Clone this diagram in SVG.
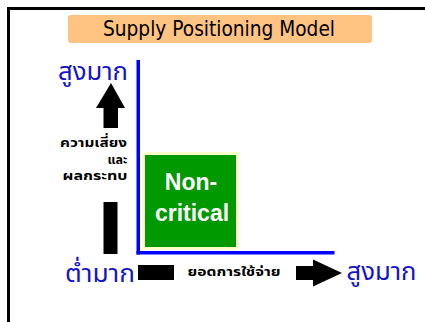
<svg xmlns="http://www.w3.org/2000/svg" width="425" height="322" viewBox="0 0 425 322">
  <style>
    .thai { font-family: "Noto Sans Thai", "Tahoma", "Loma", "Garuda", "Norasi", "DejaVu Sans", sans-serif; }
    .level { fill: #1414C8; font-size: 25px; }
    .axis-label { fill: #000000; font-size: 12.5px; font-weight: bold; }
    .axis { fill: #0000FF; }
    .arrow { fill: #000000; }
  </style>
  <rect width="425" height="322" fill="#FFFFFF"/>
  <!-- slide frame, runs off the right and bottom edges -->
  <rect x="8.5" y="8.5" width="440" height="340" fill="none" stroke="#000000" stroke-width="3"/>

  <g id="title">
    <rect x="68" y="15" width="304" height="28" rx="3" fill="#FFC382"/>
    <text x="219" y="36" text-anchor="middle" font-family="DejaVu Sans, Verdana, sans-serif" font-size="21" textLength="232" lengthAdjust="spacingAndGlyphs" fill="#000000">Supply Positioning Model</text>
  </g>

  <g id="axes">
    <rect class="axis" x="136.5" y="60" width="3.5" height="194.5"/>
    <rect class="axis" x="136.5" y="251" width="198" height="3.5"/>
  </g>

  <g id="non-critical">
    <rect x="143.5" y="153.5" width="94" height="95" fill="#009900" stroke="#FFFFCC" stroke-width="3"/>
    <text x="191" y="190" text-anchor="middle" font-family="Liberation Sans, Arial, sans-serif" font-weight="bold" font-size="23" fill="#FFFFFF">Non-</text>
    <text x="192" y="221" text-anchor="middle" font-family="Liberation Sans, Arial, sans-serif" font-weight="bold" font-size="23" fill="#FFFFFF">critical</text>
  </g>

  <g id="risk-axis">
    <text class="thai level" x="93" y="80" text-anchor="middle" textLength="70" lengthAdjust="spacingAndGlyphs">สูงมาก</text>
    <path class="arrow" d="M111,83 L125,108 L118,108 L118,128 L103.5,128 L103.5,108 L96,108 Z"/>
    <text class="thai axis-label" x="127" y="146.5" text-anchor="end" textLength="67" lengthAdjust="spacingAndGlyphs">ความเสี่ยง</text>
    <text class="thai axis-label" x="127.5" y="163.5" text-anchor="end">และ</text>
    <text class="thai axis-label" x="127.5" y="179.5" text-anchor="end" textLength="65" lengthAdjust="spacingAndGlyphs">ผลกระทบ</text>
    <rect class="arrow" x="103.5" y="202" width="14" height="52"/>
  </g>

  <g id="spend-axis">
    <text class="thai level" x="100" y="281.5" text-anchor="middle" textLength="70" lengthAdjust="spacingAndGlyphs">ต่ำมาก</text>
    <rect class="arrow" x="138" y="265" width="36" height="15"/>
    <text class="thai axis-label" x="234" y="276" text-anchor="middle" textLength="93" lengthAdjust="spacingAndGlyphs">ยอดการใช้จ่าย</text>
    <path class="arrow" d="M296,266 L313,266 L313,259.5 L342,273 L313,286.5 L313,280 L296,280 Z"/>
    <text class="thai level" x="381.5" y="279.5" text-anchor="middle" textLength="70" lengthAdjust="spacingAndGlyphs">สูงมาก</text>
  </g>
</svg>
